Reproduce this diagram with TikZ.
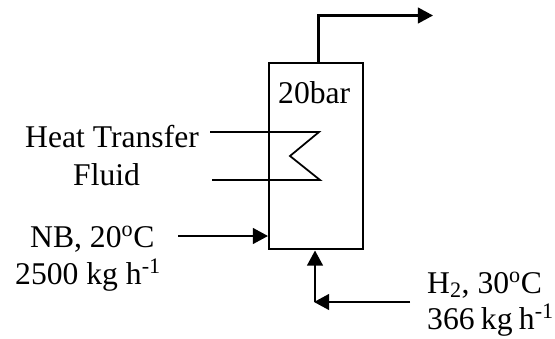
\documentclass[tikz,border=0pt]{standalone}
\usepackage{fontspec}
\setmainfont{Liberation Serif}
\usetikzlibrary{
  arrows.meta,
  positioning,
  calc
}
\tikzset{
  stream/.style={line width=1.9pt,-{Triangle[length=13pt,width=13.5pt]}},
  coil/.style={line width=1.5pt},
  label/.style={font=\fontsize{27pt}{32pt}\selectfont,inner sep=0pt,anchor=base west}
}

\begin{document}
\begin{tikzpicture}[
    x=0.03cm,
    y=-0.03cm,
    >=Latex
    ]
    
    \useasboundingbox (0,0) rectangle (555,339);
    
    \node[draw,line width=1.9pt,minimum width=2.82cm,minimum height=5.58cm,inner sep=0pt] (reactor) at (316,156) {};
    
    \node[label] (pressure) at (278,104) {20bar};
    
    \node[label] (heat) at (25,148) {Heat Transfer};
    \node[label] (fluid) at (73,186) {Fluid};
    
    \node[label] (nb) at (30,247) {NB, 20\textsuperscript{o}C};
    \node[label] (nbrate) at (15,284) {2500 kg h\textsuperscript{-1}};
    
    \node[label] (hydrogen) at (427,293) {H\textsubscript{2}, 30\textsuperscript{o}C};
    \node[label] (hrate) at (427,329) {\spaceskip=.2em 366 kg h\textsuperscript{-1}};
    
    % outlet
    \coordinate (top) at (318.5,63);
    \coordinate (bend) at (318.5,15.5);
    \coordinate (outlet) at (433,15.5);
    \draw[stream] (top)--(bend)--(outlet);
    
    % heat transfer coil
    \coordinate (coilin) at (210,132);
    \coordinate (coila) at (319,132);
    \coordinate (coilb) at (290,156);
    \coordinate (coilc) at (320,180);
    \coordinate (coilout) at (212,180);
    \draw[coil] (coilin)--(coila)--(coilb)--(coilc)--(coilout);
    
    % feed streams
    \coordinate (nbstart) at (178,236);
    \coordinate (nbend) at (268,236);
    \draw[stream] (nbstart)--(nbend);
    
    \coordinate (hstart) at (410,302);
    \coordinate (hjoin) at (314,302);
    \coordinate (hbase) at (315,302);
    \coordinate (hend) at (315,250.5);
    \draw[stream] (hstart)--(hjoin);
    \draw[stream] (hbase)--(hend);
    
\end{tikzpicture}
\end{document}
